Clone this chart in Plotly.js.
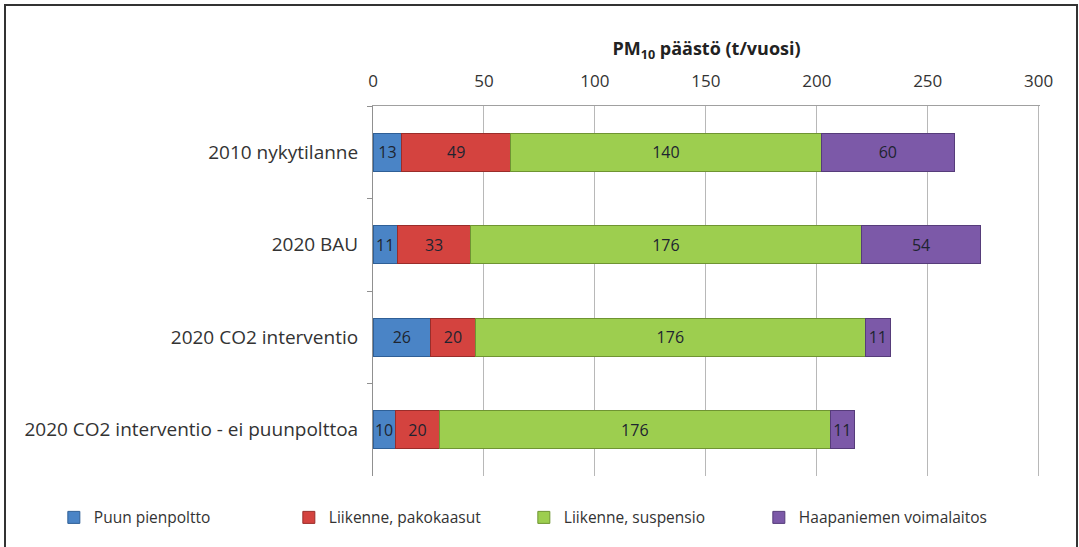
<!DOCTYPE html>
<html>
<head>
<meta charset="utf-8">
<script src="https://cdn.plot.ly/plotly-3.0.1.min.js"></script>
<style>
  html, body { margin: 0; padding: 0; background: #fff; overflow: hidden; }
  #chart { width: 1079px; height: 547px; }
  #frame { position: absolute; left: 4px; top: 4px; width: 1074px; height: 550px; border: 2px solid #333; pointer-events: none; box-sizing: border-box; }
</style>
</head>
<body>
<div id="chart"></div>
<div id="frame"></div>
<script>
const categories = ["2010 nykytilanne", "2020 BAU", "2020 CO2 interventio", "2020 CO2 interventio - ei puunpolttoa"];
const seriesNames = ["Puun pienpoltto", "Liikenne, pakokaasut", "Liikenne, suspensio", "Haapaniemen voimalaitos"];
const puunPienpoltto = [13, 11, 26, 10];
const pakokaasut = [49, 33, 20, 20];
const suspensio = [140, 176, 176, 176];
const voimalaitos = [60, 54, 11, 11];
const xTicks = [0, 50, 100, 150, 200, 250, 300];

const colors = ["#4a84c6", "#d4433f", "#9dce4f", "#7c59a8"];
const lineColors = ["#2f5f96", "#9a2d2a", "#6f9432", "#563c7a"];
const values = [puunPienpoltto, pakokaasut, suspensio, voimalaitos];
const FONT = "'Open Sans', 'Noto Sans', sans-serif";

const traces = values.map((v, i) => ({
  type: "bar",
  orientation: "h",
  name: seriesNames[i],
  y: categories,
  x: v,
  marker: { color: colors[i], line: { color: lineColors[i], width: 1 } },
  texttemplate: "%{x}",
  textposition: "inside",
  insidetextanchor: "middle",
  textangle: 0,
  constraintext: "none",
  textfont: { family: FONT, size: 16, color: "#1e2430" },
  hoverinfo: "x+name"
}));

const layout = {
  barmode: "stack",
  bargap: 0.59,
  width: 1079,
  height: 547,
  margin: { l: 373, r: 39, t: 106, b: 71 },
  paper_bgcolor: "#ffffff",
  plot_bgcolor: "#ffffff",
  font: { family: FONT, size: 16, color: "#333" },
  showlegend: true,
  legend: {
    orientation: "h",
    xref: "paper", yref: "paper",
    x: -0.4785, xanchor: "left",
    y: -0.113, yanchor: "middle",
    font: { family: FONT, size: 15.5, color: "#333" },
    traceorder: "normal",
    itemwidth: 30,
    entrywidth: 190,
    entrywidthmode: "pixels"
  },
  xaxis: {
    side: "top",
    range: [0, 300.6],
    tickvals: xTicks,
    ticktext: xTicks.map(String),
    showgrid: true,
    gridcolor: "#b8b8b8",
    gridwidth: 1,
    zeroline: false,
    showline: true,
    linecolor: "#a0a0a0",
    linewidth: 1,
    ticks: "",
    ticklabelstandoff: 11,
    tickfont: { family: FONT, size: 17, color: "#333" },
    title: {
      text: "<b>PM<sub>10</sub> päästö (t/vuosi)</b>",
      font: { family: FONT, size: 18, color: "#222" },
      standoff: 8
    },
    fixedrange: true
  },
  yaxis: {
    type: "category",
    autorange: "reversed",
    showline: true,
    linecolor: "#909090",
    linewidth: 1,
    ticks: "outside",
    tickson: "boundaries",
    ticklen: 5,
    tickcolor: "#909090",
    showgrid: false,
    ticklabelstandoff: 10,
    tickfont: { family: FONT, size: 19, color: "#333" },
    fixedrange: true
  }
};

Plotly.newPlot("chart", traces, layout, { displayModeBar: false, staticPlot: true });
</script>
</body>
</html>
